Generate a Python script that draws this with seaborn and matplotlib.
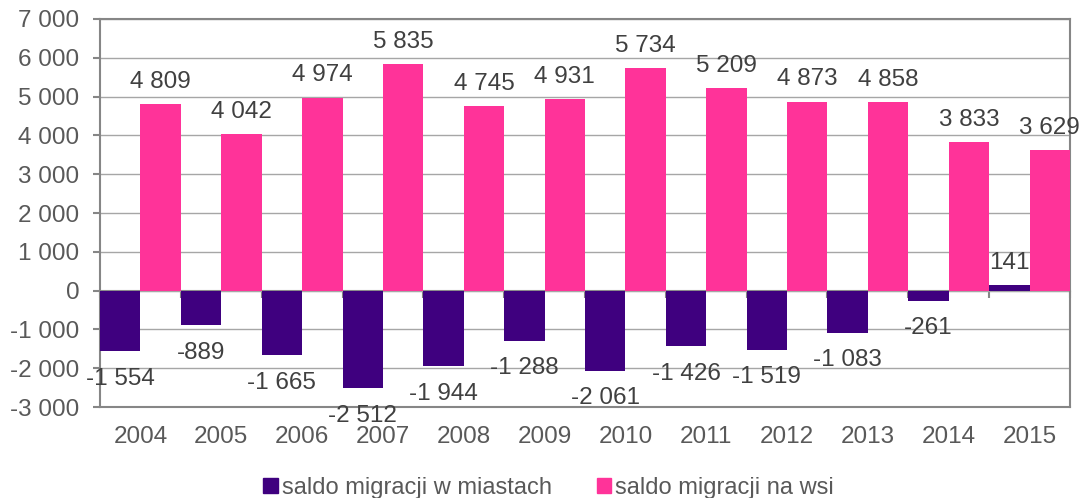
import matplotlib
matplotlib.use("Agg")
import matplotlib.pyplot as plt
import seaborn as sns
import pandas as pd

years = ["2004", "2005", "2006", "2007", "2008", "2009", "2010", "2011",
         "2012", "2013", "2014", "2015"]
miasta = [-1554, -889, -1665, -2512, -1944, -1288, -2061, -1426, -1519, -1083, -261, 141]
wies = [4809, 4042, 4974, 5835, 4745, 4931, 5734, 5209, 4873, 4858, 3833, 3629]
series_names = ["saldo migracji w miastach", "saldo migracji na wsi"]
colors = ["#3F007F", "#FF3399"]

df = pd.DataFrame({
    "rok": years * 2,
    "saldo": miasta + wies,
    "seria": [series_names[0]] * len(years) + [series_names[1]] * len(years),
})

sns.set_style("white")
plt.rcParams["font.family"] = ["Liberation Sans", "DejaVu Sans"]

fig = plt.figure(figsize=(10.84, 4.98), dpi=100)
ax = fig.add_axes([100 / 1084, 91 / 498, 970 / 1084, 388 / 498])

sns.barplot(data=df, x="rok", y="saldo", hue="seria", palette=colors,
            width=1.0, saturation=1, linewidth=0, ax=ax, zorder=3)

ax.set_ylim(-3000, 7000)
ax.set_xlim(-0.5, len(years) - 0.5)
ax.set_yticks(range(-3000, 7001, 1000))

def fmt(v):
    return f"{int(round(v)):,}".replace(",", " ")

ax.set_yticklabels([fmt(v) for v in range(-3000, 7001, 1000)])

grid_c = "#A6A6A6"
spine_c = "#868686"
ax.grid(axis="y", color=grid_c, linewidth=1.0, zorder=0)
ax.set_axisbelow(True)
for s in ax.spines.values():
    s.set_color(spine_c)
    s.set_linewidth(1.5)
    s.set_visible(True)

fs = 17.5
text_c = "#595959"
ax.tick_params(axis="y", direction="out", length=5, width=1.5, color=spine_c,
               labelsize=fs, labelcolor=text_c, pad=10, left=True)
ax.tick_params(axis="x", length=0, labelsize=fs, labelcolor=text_c, pad=14)
ax.set_xlabel("")
ax.set_ylabel("")

# horizontal axis line at zero with category separators
zero_frac = (0 - (-3000)) / (7000 - (-3000))
sec = ax.secondary_xaxis(zero_frac)
sec.spines["bottom"].set_color(spine_c)
sec.spines["bottom"].set_linewidth(1.5)
sec.set_xticks([i - 0.5 for i in range(len(years) + 1)])
sec.tick_params(axis="x", direction="out", length=5, width=1.5, color=spine_c,
                labelbottom=False)

label_c = "#404040"
for cont in ax.containers:
    heights = [b.get_height() for b in cont]
    texts = ax.bar_label(cont, labels=[fmt(h) for h in heights], padding=8,
                         fontsize=fs, color=label_c)
    # values below zero sit a little further from the bar end
    for t, h in zip(texts, heights):
        if h < 0:
            t.xyann = (0, -12)

ax.legend_.remove()
handles = [plt.Rectangle((0, 0), 1, 1, color=c) for c in colors]
fig.legend(handles, series_names, loc="center", bbox_to_anchor=(0.506, 0.02),
           ncol=2, frameon=False, fontsize=17, labelcolor=text_c,
           handlelength=0.62, handleheight=0.62, handletextpad=0.17,
           columnspacing=1.9, borderpad=0)

fig.savefig("out.png", dpi=100)
